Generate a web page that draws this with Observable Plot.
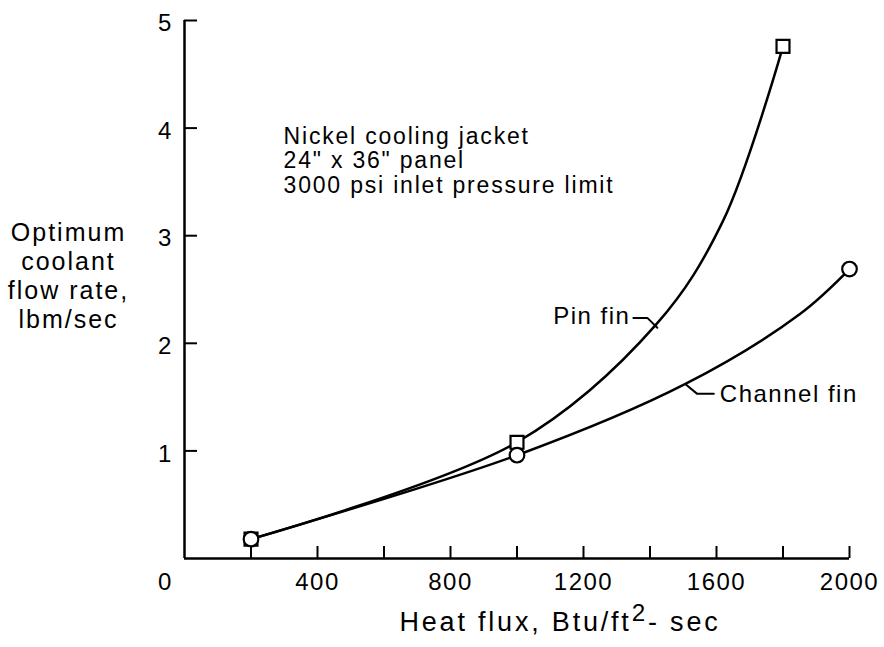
<!DOCTYPE html>
<html><head><meta charset="utf-8">
<script src="https://cdn.jsdelivr.net/npm/d3@7"></script>
<script src="https://cdn.jsdelivr.net/npm/@observablehq/plot@0.6"></script>
<style>html,body{margin:0;padding:0;background:#fff} svg text{letter-spacing:1.5px}</style>
</head><body><div id="chart"></div>
<script>
// Curves
const pinCurveX  = [200, 1000, 1420, 1620, 1800];
const pinCurveY  = [0.18, 1.08, 2.18, 3.14, 4.76];
const chanCurveX = [200, 1000, 1505, 1850, 2000];
const chanCurveY = [0.18, 0.96, 1.62, 2.27, 2.69];
// Markers
const pinMarkX  = [200, 1000, 1800];
const pinMarkY  = [0.18, 1.08, 4.76];
const chanMarkX = [200, 1000, 2000];
const chanMarkY = [0.18, 0.96, 2.69];
// Ticks
const xTicks = [200, 400, 600, 800, 1000, 1200, 1400, 1600, 1800, 2000];
const xTickLabels = [400, 800, 1200, 1600, 2000];
const xOriginLabel = [0];
const yTicks = [1, 2, 3, 4, 5];
// Texts
const xTitle = "Heat flux, Btu/ft2- sec";
const yTitle = "Optimum\ncoolant\nflow rate,\nlbm/sec";
const noteText = "Nickel cooling jacket\n24\" x 36\" panel\n3000 psi inlet pressure limit";
const noteX = [298], noteY = [3.70];
const pinLabel = "Pin fin", pinLabelX = [1350], pinLabelY = [2.25];
const chanLabel = "Channel fin", chanLabelX = [1592], chanLabelY = [1.53];
const pinLeaderX = [1350, 1392, 1422], pinLeaderY = [2.236, 2.236, 2.145];
const chanLeaderX = [1507, 1542, 1592], chanLeaderY = [1.62, 1.53, 1.53];

const zip = (xs, ys) => xs.map((x, i) => ({x, y: ys[i]}));
const font = "'Liberation Sans', Arial, Helvetica, sans-serif";
const FS = 24;

const chart = Plot.plot({
  width: 884, height: 647,
  marginLeft: 184, marginRight: 35, marginTop: 20, marginBottom: 89,
  x: {domain: [0, 2000], label: null},
  y: {domain: [0, 5], label: null},
  style: {fontFamily: font, fontSize: FS + "px", color: "black", background: "white"},
  marks: [
    Plot.axisX(xTicks, {tickSize: 12, dy: -12, fill: "none", stroke: "black", strokeWidth: 2, label: null}),
    Plot.axisY(yTicks, {tickSize: 13, dx: 13, fill: "none", stroke: "black", strokeWidth: 2, label: null}),
    Plot.ruleX([0], {y1: 0, y2: 5, strokeWidth: 2.5, stroke: "black"}),
    Plot.ruleY([0], {x1: 0, x2: 2000, strokeWidth: 2.5, stroke: "black"}),
    Plot.text(xTickLabels, {x: d => d, y: 0, dy: 24, text: d => String(d), fontSize: FS}),
    Plot.text(xOriginLabel, {x: d => d, y: 0, dy: 24, dx: -19, text: d => String(d), fontSize: FS}),
    Plot.text(yTicks, {x: 0, y: d => d, dx: -19, dy: 3, text: d => String(d), fontSize: FS}),
    Plot.line(zip(pinCurveX, pinCurveY), {x: "x", y: "y", curve: "catmull-rom", stroke: "black", strokeWidth: 2.5}),
    Plot.line(zip(chanCurveX, chanCurveY), {x: "x", y: "y", curve: "catmull-rom", stroke: "black", strokeWidth: 2.5}),
    Plot.line(zip(pinLeaderX, pinLeaderY), {x: "x", y: "y", stroke: "black", strokeWidth: 2}),
    Plot.line(zip(chanLeaderX, chanLeaderY), {x: "x", y: "y", stroke: "black", strokeWidth: 2}),
    Plot.dot(zip(pinMarkX, pinMarkY), {x: "x", y: "y", symbol: "square", r: 7.3, fill: "white", stroke: "black", strokeWidth: 2.2}),
    Plot.dot(zip(chanMarkX, chanMarkY), {x: "x", y: "y", symbol: "circle", r: 7.3, fill: "white", stroke: "black", strokeWidth: 2.2}),
    Plot.text([noteText], {x: noteX[0], y: noteY[0], text: d => d, textAnchor: "start", lineAnchor: "middle", lineHeight: 1.06, fontSize: 23}),
    Plot.text([pinLabel], {x: pinLabelX[0], y: pinLabelY[0], text: d => d, textAnchor: "end", dx: -3, fontSize: FS}),
    Plot.text([chanLabel], {x: chanLabelX[0], y: chanLabelY[0], text: d => d, textAnchor: "start", dx: 6, fontSize: FS}),
    Plot.text([yTitle], {frameAnchor: "left", text: d => d, dx: -116, dy: -14, lineHeight: 1.16, textAnchor: "middle", fontSize: 25}),
    Plot.text([xTitle], {frameAnchor: "bottom", text: d => d, dx: 43, dy: 72, textAnchor: "middle", fontSize: 27})
  ]
});
document.getElementById("chart").appendChild(chart);

const ns = "http://www.w3.org/2000/svg";
chart.querySelectorAll("text").forEach(t => {
  const s = t.textContent;
  if (s === xTitle) {
    // superscript the "2" in the x title
    t.textContent = "";
    t.style.letterSpacing = "2.8px";
    const a = document.createElementNS(ns, "tspan"); a.textContent = "Heat flux, Btu/ft";
    const b = document.createElementNS(ns, "tspan"); b.textContent = "2"; b.setAttribute("dy", "-0.4em"); b.setAttribute("font-size", "0.9em");
    const c = document.createElementNS(ns, "tspan"); c.textContent = "- sec"; c.setAttribute("dy", "0.36em");
    t.append(a, b, c);
  } else if (s.startsWith("Nickel")) {
    t.style.letterSpacing = "1.8px";
  } else if (s.startsWith("Optimum")) {
    t.style.letterSpacing = "2px";
  }
});
</script>
</body></html>
